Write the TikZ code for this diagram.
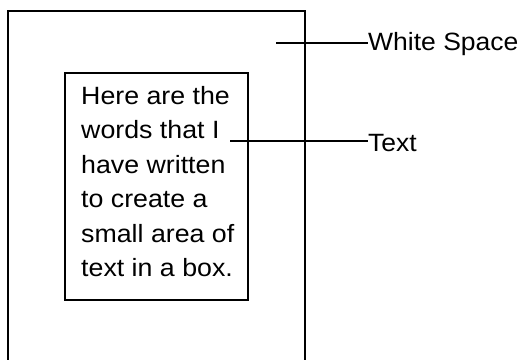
\documentclass[tikz,border=0pt]{standalone}
\usepackage{fontspec}
\setmainfont{Liberation Sans}
\begin{document}
\begin{tikzpicture}[x=1pt,y=-1pt,
    frame/.style={draw=black, line width=1.5pt},
    leader/.style={draw=black, line width=1.2pt},
    label/.style={anchor=west, inner sep=0pt, font=\fontsize{25}{28}\selectfont},
    bodytext/.style={anchor=north west, inner sep=0pt, align=left,
                     font=\fontsize{25}{34.5}\selectfont}]
  \useasboundingbox (0,0) rectangle (522,359);
  % page outline, running past the lower edge
  \draw[frame] (8,370) -- (8,11) -- (305,11) -- (305,370);
  % text block
  \node[frame, anchor=north west, minimum width=183pt, minimum height=227pt, inner sep=0pt] (box) at (64,72) {};
  \node[bodytext] (body) at (81,86) {\scalebox{1.07}[1]{Here are the}\\\scalebox{1.07}[1]{words that I}\\\scalebox{1.07}[1]{have written}\\\scalebox{1.07}[1]{to create a}\\\scalebox{1.07}[1]{small area of}\\\scalebox{1.07}[1]{text in a box.}};
  % callouts
  \node[label] (ws) at (368,44) {\scalebox{1.06}[1]{White Space}};
  \node[label] (txt) at (368,143) {\scalebox{1.06}[1]{Text}};
  \coordinate (wsfrom) at (276,43);
  \coordinate (txtfrom) at (230,141);
  \draw[leader] (wsfrom) -- (wsfrom -| ws.west);
  \draw[leader] (txtfrom) -- (txtfrom -| txt.west);
\end{tikzpicture}
\end{document}
